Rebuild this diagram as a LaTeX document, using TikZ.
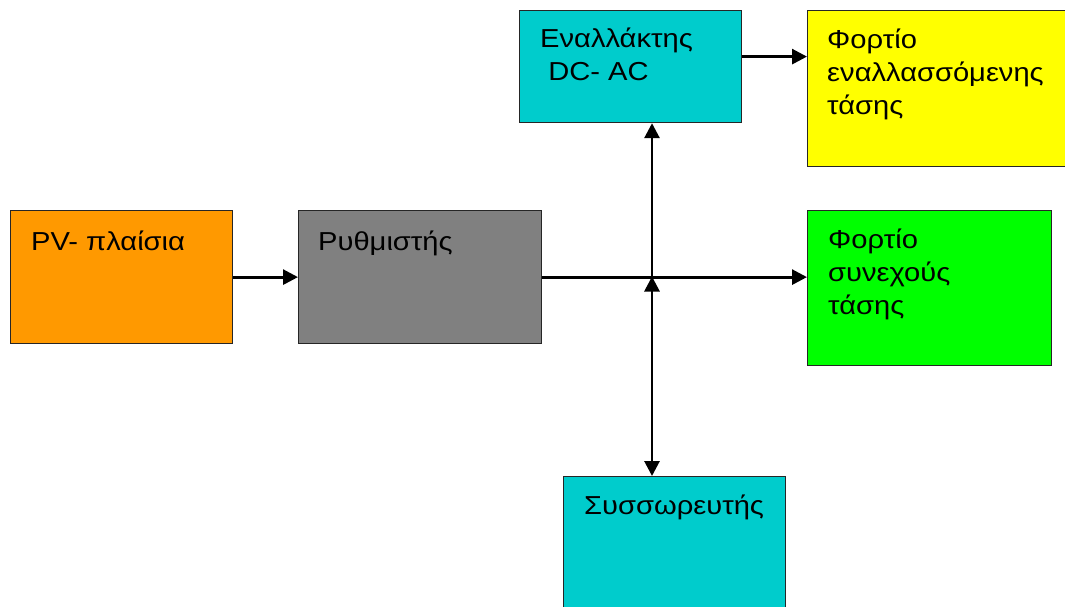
\documentclass[tikz,border=0pt]{standalone}
\usepackage{fontspec}
\setmainfont{Liberation Sans}[FakeStretch=1.12]
\usetikzlibrary{arrows.meta,positioning}

\definecolor{pvorange}{HTML}{FF9900}
\definecolor{reggray}{HTML}{808080}
\definecolor{unitcyan}{HTML}{00CCCC}
\definecolor{acyellow}{HTML}{FFFF00}
\definecolor{dcgreen}{HTML}{00FF00}

\begin{document}
\begin{tikzpicture}[x=1pt,y=-1pt,
  box/.style={draw=black!85, line width=1.2pt, fill=#1, anchor=north west, inner sep=0pt},
  txt/.style={anchor=north west, inner sep=0pt, align=left, font=\fontsize{26}{33}\selectfont,
    execute at begin node=\strut},
  link/.style={line width=2.8pt, -{Triangle[length=15pt,width=15pt]}},
  both/.style={line width=2.8pt, {Triangle[length=15pt,width=15pt]}-{Triangle[length=15pt,width=15pt]}}]
  \useasboundingbox (0,0) rectangle (1065,606);

  % blocks
  \node[box=pvorange, minimum width=222pt, minimum height=133pt] (pv) at (10,210) {};
  \node[box=reggray, minimum width=243pt, minimum height=133pt] (reg) at (298,210) {};
  \node[box=unitcyan, minimum width=222pt, minimum height=112pt] (inv) at (519,10) {};
  \node[box=acyellow, minimum width=270pt, minimum height=156pt] (acload) at (807,10) {};
  \node[box=dcgreen, minimum width=244pt, minimum height=155pt] (dcload) at (807,210) {};
  \node[box=unitcyan, minimum width=222pt, minimum height=140pt] (bat) at (563,476) {};

  % texts (strut height 23.1pt, so baseline sits about 40pt below the top)
  \node[txt] (pvtxt) at ([shift={(21,17)}]pv.north west) {PV- πλαίσια};
  \node[txt] (regtxt) at ([shift={(20,17)}]reg.north west) {Ρυθμιστής};
  \node[txt] (invtxt) at ([shift={(21,18)}]inv.north west) {Εναλλάκτης\\~DC- AC};
  \node[txt] (actxt) at ([shift={(20,19)}]acload.north west) {Φορτίο\\εναλλασσόμενης\\τάσης};
  \node[txt] (dctxt) at ([shift={(21,19)}]dcload.north west) {Φορτίο\\συνεχούς\\τάσης};
  \node[txt] (battxt) at ([shift={(21,15)}]bat.north west) {Συσσωρευτής};

  % connections
  \coordinate (bus) at (652,276.5);
  \coordinate (acin) at ([yshift=10pt]inv.east);
  \draw[link] (pv) -- (reg);
  \draw[link] (reg.east) -- (reg.east -| dcload.west);
  \draw[link] (bus) -- (bus |- inv.south);
  \draw[both] (bus |- bat.north) -- (bus);
  \draw[link] (acin) -- (acin -| acload.west);
\end{tikzpicture}
\end{document}
